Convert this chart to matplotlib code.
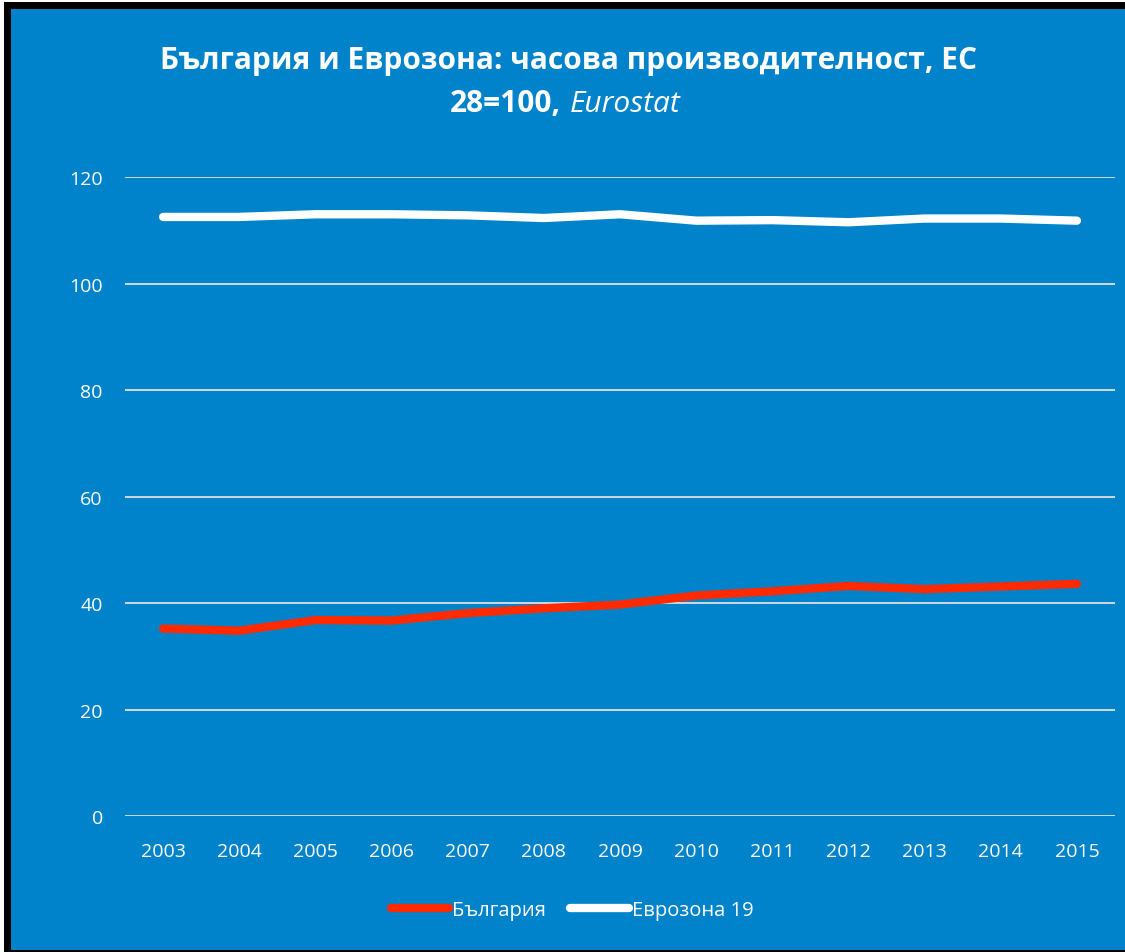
import matplotlib.pyplot as plt
from matplotlib.patches import Rectangle

years = ['2003', '2004', '2005', '2006', '2007', '2008', '2009',
         '2010', '2011', '2012', '2013', '2014', '2015']
bulgaria = [35.2, 34.8, 36.8, 36.7, 38.1, 39.0, 39.7, 41.4, 42.2, 43.2, 42.6, 43.1, 43.6]
eurozone = [112.5, 112.5, 113.0, 113.0, 112.8, 112.3, 113.0, 111.8, 111.9, 111.5, 112.2, 112.2, 111.8]
yticks = [0, 20, 40, 60, 80, 100, 120]

blue = '#0083CA'
red = '#FF2A00'
plt.rcParams['font.family'] = ['Open Sans', 'DejaVu Sans']

fig = plt.figure(figsize=(11.25, 9.53), dpi=100)
fig.patch.set_facecolor('white')
# black frame + blue panel
fig.patches.append(Rectangle((4 / 1125, 0), 1.0, 950 / 953, transform=fig.transFigure,
                             facecolor='black', edgecolor='none', zorder=-2))
fig.patches.append(Rectangle((11 / 1125, 2 / 953), 1.0, 941 / 953, transform=fig.transFigure,
                             facecolor=blue, edgecolor='none', zorder=-1))

ax = fig.add_axes([125 / 1125, 1 - 817 / 953, 990 / 1125, 639 / 953])
ax.set_facecolor(blue)
x = range(len(years))
ax.plot(x, bulgaria, color=red, lw=6, solid_capstyle='round', label='България', zorder=3)
ax.plot(x, eurozone, color='white', lw=6, solid_capstyle='round', label='Еврозона 19', zorder=3)

ax.set_xlim(-0.5, len(years) - 0.5)
ax.set_ylim(0, 120)
ax.set_yticks(yticks)
ax.set_xticks(list(x))
ax.set_xticklabels(years)
ax.grid(axis='y', color='#E0E0E0', lw=1.3)
ax.set_axisbelow(True)
for s in ax.spines.values():
    s.set_visible(False)
ax.tick_params(length=0, colors='white', labelsize=14)
ax.tick_params(axis='y', pad=16)
ax.tick_params(axis='x', pad=19)

fig.text(568 / 1125, 1 - 61 / 953, 'България и Еврозона: часова производителност, ЕС',
         color='white', fontsize=21.5, fontweight='bold', ha='center', va='center')
fig.text(561 / 1125, 1 - 104 / 953, '28=100,', color='white', fontsize=21.5,
         fontweight='bold', ha='right', va='center')
fig.text(570 / 1125, 1 - 104 / 953, 'Eurostat', color='white', fontsize=21.5,
         fontstyle='italic', ha='left', va='center')

leg = ax.legend(loc='center', bbox_to_anchor=(572 / 1125, 1 - 911 / 953),
                bbox_transform=fig.transFigure, ncol=2, frameon=False,
                fontsize=14.5, labelcolor='white', handlelength=2.9,
                handletextpad=0.15, columnspacing=1.2)

fig.savefig('out.png', dpi=100, facecolor=fig.get_facecolor())
